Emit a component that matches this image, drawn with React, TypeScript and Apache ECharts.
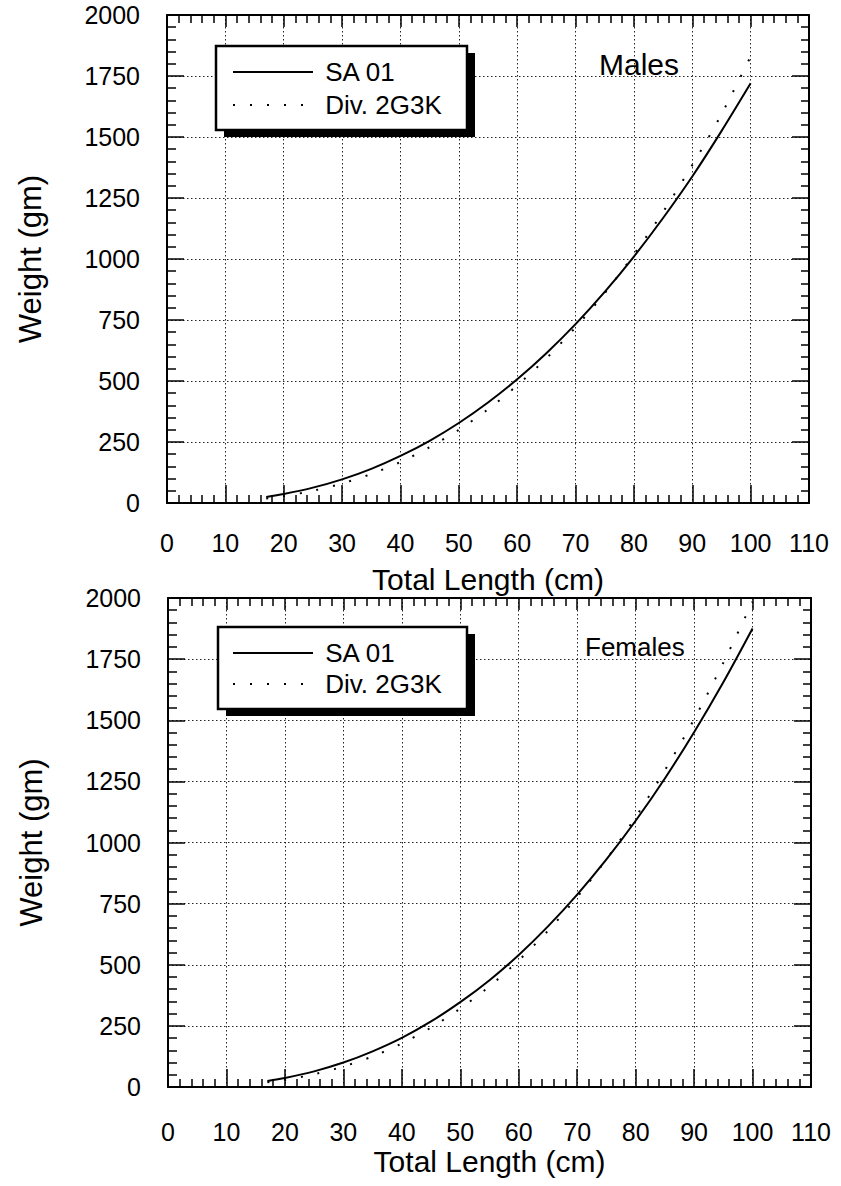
import React, { useEffect, useRef } from "react";
import * as echarts from "echarts";

// Total length (cm) sample positions
const xLen = [17, 20, 25, 30, 35, 40, 45, 50, 55, 60, 65, 70, 75, 80, 85, 90, 95, 100];
// Males
const maleSA = [25, 37, 63, 97, 140, 193, 255, 328, 412, 507, 614, 733, 865, 1010, 1168, 1338, 1524, 1720];
const maleDiv = [18, 28, 50, 80, 119, 168, 229, 300, 384, 482, 593, 720, 860, 1019, 1193, 1385, 1593, 1830];
// Females
const femaleSA = [25, 37, 64, 100, 146, 201, 268, 347, 437, 540, 657, 787, 931, 1089, 1262, 1451, 1655, 1875];
const femaleDiv = [19, 29, 52, 84, 125, 178, 243, 321, 412, 518, 639, 777, 931, 1104, 1295, 1504, 1735, 1985];

const seriesNames = ["SA 01", "Div. 2G3K"];
const panelTitles = ["Males", "Females"];
const xName = "Total Length (cm)";
const yName = "Weight (gm)";

const FONT = "Liberation Sans, Arial, Helvetica, sans-serif";
const BLACK = "#000";

function pairs(xs: number[], ys: number[]) {
  return xs.map((x, i) => [x, ys[i]]);
}

const plain = (v: number) => String(v);

function xAxes(gridIndex: number, nameGap: number, labelMargin: number) {
  return [
    {
      type: "value",
      gridIndex,
      min: 0,
      max: 110,
      interval: 10,
      position: "bottom",
      axisLine: { show: true, onZero: false, lineStyle: { color: BLACK, width: 2 } },
      axisTick: { show: true, inside: true, length: 18, lineStyle: { color: BLACK, width: 1.5 } },
      minorTick: { show: true, splitNumber: 5, length: 8, lineStyle: { color: BLACK, width: 1.5 } },
      splitLine: { show: true, lineStyle: { color: "#222", width: 1, type: [1.5, 2.5] } },
      axisLabel: { color: BLACK, fontSize: 25, margin: labelMargin, fontFamily: FONT, formatter: plain },
      name: xName,
      nameLocation: "middle",
      nameGap,
      nameTextStyle: { fontSize: 30, color: BLACK, fontFamily: FONT },
    },
    {
      type: "value",
      gridIndex,
      min: 0,
      max: 110,
      interval: 10,
      position: "top",
      axisLine: { show: true, onZero: false, lineStyle: { color: BLACK, width: 2 } },
      axisTick: { show: true, inside: true, length: 12, lineStyle: { color: BLACK, width: 1.5 } },
      minorTick: { show: true, splitNumber: 5, length: 8, lineStyle: { color: BLACK, width: 1.5 } },
      splitLine: { show: false },
      axisLabel: { show: false },
    },
  ];
}

function yAxes(gridIndex: number) {
  return [
    {
      type: "value",
      gridIndex,
      min: 0,
      max: 2000,
      interval: 250,
      position: "left",
      axisLine: { show: true, onZero: false, lineStyle: { color: BLACK, width: 2 } },
      axisTick: { show: true, inside: true, length: 17, lineStyle: { color: BLACK, width: 1.5 } },
      minorTick: { show: true, splitNumber: 5, length: 9, lineStyle: { color: BLACK, width: 1.5 } },
      splitLine: { show: true, lineStyle: { color: "#222", width: 1, type: [1.5, 2.5] } },
      axisLabel: { color: BLACK, fontSize: 25, margin: 27, fontFamily: FONT, formatter: plain },
      name: yName,
      nameLocation: "middle",
      nameGap: 121,
      nameTextStyle: { fontSize: 31, color: BLACK, fontFamily: FONT },
    },
    {
      type: "value",
      gridIndex,
      min: 0,
      max: 2000,
      interval: 250,
      position: "right",
      axisLine: { show: true, onZero: false, lineStyle: { color: BLACK, width: 2 } },
      axisTick: { show: true, inside: true, length: 17, lineStyle: { color: BLACK, width: 1.5 } },
      minorTick: { show: true, splitNumber: 5, length: 8, lineStyle: { color: BLACK, width: 1.5 } },
      splitLine: { show: false },
      axisLabel: { show: false },
    },
  ];
}

function lineSeries(name: string, data: number[][], axisIdx: number, dotted: boolean) {
  return {
    type: "line",
    name,
    data,
    xAxisIndex: axisIdx * 2,
    yAxisIndex: axisIdx * 2,
    symbol: "none",
    smooth: 0.3,
    z: 5,
    lineStyle: dotted
      ? { color: BLACK, width: 2, type: [2, 15] }
      : { color: BLACK, width: 2, type: "solid" },
    itemStyle: { color: BLACK },
  };
}

function legendFor(left: number, top: number, gap: number) {
  return {
    show: true,
    orient: "vertical",
    left,
    top,
    z: 10,
    padding: 0,
    itemGap: gap,
    itemWidth: 80,
    itemHeight: 14,
    backgroundColor: "transparent",
    borderWidth: 0,
    selectedMode: false,
    itemStyle: { color: "rgba(0,0,0,0)", borderWidth: 0, opacity: 0 },
    formatter: (n: string) => " " + n,
    data: seriesNames.map((n) => ({ name: n })),
    textStyle: { fontSize: 26, color: BLACK, fontFamily: FONT, lineHeight: 26 },
  };
}

export default function App() {
  const ref = useRef<HTMLDivElement>(null);

  useEffect(() => {
    document.body.style.margin = "0";
    if (!ref.current) return;
    const chart = echarts.init(ref.current, undefined, { renderer: "svg" });

    const option: any = {
      animation: false,
      backgroundColor: "#fff",
      grid: [
        { left: 167, top: 15, width: 642, height: 488, containLabel: false },
        { left: 168, top: 598, width: 643, height: 489, containLabel: false },
      ],
      xAxis: [...xAxes(0, 61, 27), ...xAxes(1, 59, 32)],
      yAxis: [...yAxes(0), ...yAxes(1)],
      legend: [legendFor(232, 59, 7), legendFor(232, 640, 5)],
      graphic: [
        { type: "rect", z: 1, shape: { x: 224, y: 53, width: 251, height: 84 }, style: { fill: BLACK } },
        {
          type: "rect",
          z: 2,
          shape: { x: 216, y: 46, width: 251, height: 84 },
          style: { fill: "#fff", stroke: BLACK, lineWidth: 2.5 },
        },
        { type: "rect", z: 1, shape: { x: 226, y: 634, width: 249, height: 82 }, style: { fill: BLACK } },
        {
          type: "rect",
          z: 2,
          shape: { x: 218, y: 627, width: 249, height: 82 },
          style: { fill: "#fff", stroke: BLACK, lineWidth: 2.5 },
        },
        {
          type: "text",
          z: 10,
          x: 599,
          y: 64,
          style: { text: panelTitles[0], fontSize: 30, fontFamily: FONT, fill: BLACK, verticalAlign: "middle" },
        },
        {
          type: "text",
          z: 10,
          x: 585,
          y: 647,
          style: { text: panelTitles[1], fontSize: 26, fontFamily: FONT, fill: BLACK, verticalAlign: "middle" },
        },
      ],
      series: [
        lineSeries(seriesNames[0], pairs(xLen, maleSA), 0, false),
        lineSeries(seriesNames[1], pairs(xLen, maleDiv), 0, true),
        lineSeries(seriesNames[0], pairs(xLen, femaleSA), 1, false),
        lineSeries(seriesNames[1], pairs(xLen, femaleDiv), 1, true),
      ],
    };

    chart.setOption(option);
    return () => chart.dispose();
  }, []);

  return <div ref={ref} style={{ width: 841, height: 1186 }} />;
}
